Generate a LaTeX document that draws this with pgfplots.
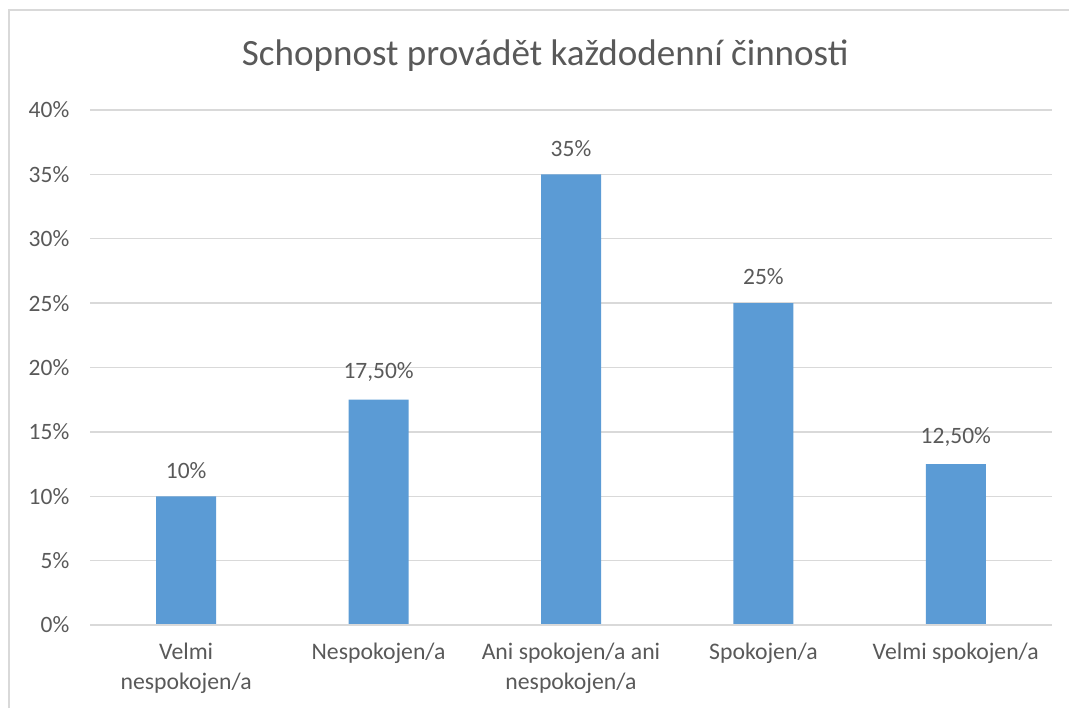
\documentclass[border=0pt]{standalone}
\usepackage{fontspec}
\setmainfont{Carlito}
\usepackage{pgfplots}
\pgfplotsset{compat=1.18}
\definecolor{barblue}{HTML}{5B9BD5}
\definecolor{gridgray}{HTML}{D9D9D9}
\definecolor{txtgray}{HTML}{595959}
\begin{document}
\begin{tikzpicture}
\useasboundingbox (0,0) rectangle (801.75pt,531pt);
\draw[gridgray,line width=1.2pt] (6.75pt,0pt) -- (6.75pt,523.5pt) -- (801.75pt,523.5pt);
\node[txtgray,font=\fontsize{27.8}{32}\selectfont] at (409pt,489pt) {Schopnost provádět každodenní činnosti};
\begin{axis}[
  at={(67.5pt,62.25pt)}, anchor=south west,
  scale only axis, width=721.5pt, height=386.25pt,
  xmin=-0.5, xmax=4.5, ymin=0, ymax=40,
  ytick={0,5,...,40},
  yticklabel={\pgfmathprintnumber{\tick}\%},
  /pgf/number format/assume math mode=true,
  xtick={0,1,2,3,4},
  xticklabels={{Velmi\\nespokojen/a},{Nespokojen/a},{Ani spokojen/a ani\\nespokojen/a},{Spokojen/a},{Velmi spokojen/a}},
  xticklabel style={align=center, text=txtgray, font=\fontsize{17.8}{22.5}\selectfont, yshift=-10pt},
  yticklabel style={text=txtgray, font=\fontsize{17.6}{20}\selectfont, xshift=-12pt},
  major tick length=0pt,
  axis line style={draw=none},
  ymajorgrids, grid style={gridgray, line width=1pt},
  axis x line*=bottom,
  ybar, bar width=45pt,
  nodes near coords,
  point meta=explicit symbolic,
  every node near coord/.append style={text=txtgray, font=\fontsize{17.6}{20}\selectfont, yshift=10pt},
]
\addplot[fill=barblue, draw=none] coordinates {
  (0,10) [10\%]
  (1,17.5) [17,50\%]
  (2,35) [35\%]
  (3,25) [25\%]
  (4,12.5) [12,50\%]
};
\draw[gridgray, line width=1.2pt] (axis cs:-0.5,0) -- (axis cs:4.5,0);
\end{axis}
\end{tikzpicture}
\end{document}
